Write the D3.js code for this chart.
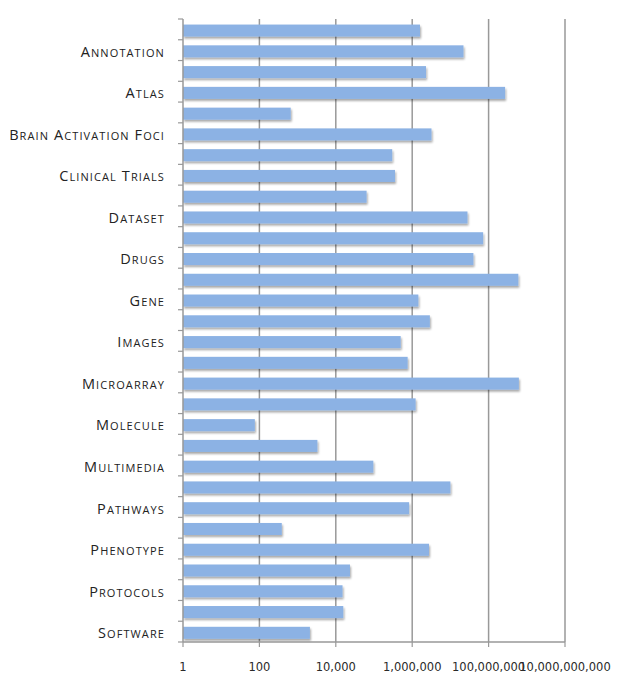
<!DOCTYPE html>
<html>
<head>
<meta charset="utf-8">
<script src="https://cdn.jsdelivr.net/npm/d3@7"></script>
<style>
  body { margin: 0; background: #fff; }
  .cat text { font-family: "Open Sans", sans-serif; fill: #222; }
  .val text { font-family: "DejaVu Sans", sans-serif; font-size: 11.5px; fill: #2a2a2a; }
</style>
</head>
<body>
<svg id="chart" width="620" height="685"></svg>
<script>
// categories top to bottom, only every other one has a label on the axis
const labels = ['', 'Annotation', '', 'Atlas', '', 'Brain Activation Foci', '', 'Clinical Trials',
	'', 'Dataset', '', 'Drugs', '', 'Gene', '', 'Images', '', 'Microarray', '', 'Molecule',
	'', 'Multimedia', '', 'Pathways', '', 'Phenotype', '', 'Protocols', '', 'Software'];

const counts = [1600000, 22000000, 2300000, 270000000, 660, 3200000, 300000, 355000,
	64000, 28000000, 72000000, 40000000, 600000000, 1450000, 2900000, 500000, 760000, 620000000,
	1230000, 76, 3300, 96000, 10000000, 830000, 385, 2750000, 23500, 15000, 15700, 2100];

const tickValues = [1, 100, 10000, 1000000, 100000000, 10000000000];

let svg = d3.select('#chart');

let x = d3.scaleLog()
	.domain([1, 1e10])
	.range([183, 565]);

let y = d3.scaleBand()
	.domain(d3.range(labels.length))
	.range([19, 642])
	.paddingInner(0.42)
	.paddingOuter(0.21);

let defs = svg.append('defs');
let f = defs.append('filter').attr('id', 'shadow')
	.attr('x', '-5%').attr('y', '-50%').attr('width', '110%').attr('height', '220%');
f.append('feGaussianBlur').attr('in', 'SourceAlpha').attr('stdDeviation', 1.3);
f.append('feOffset').attr('dx', 1).attr('dy', 2).attr('result', 'b');
f.append('feComponentTransfer').append('feFuncA').attr('type', 'linear').attr('slope', 0.35);
let m = f.append('feMerge');
m.append('feMergeNode');
m.append('feMergeNode').attr('in', 'SourceGraphic');

// vertical gridlines
svg.append('g')
	.selectAll('line')
	.data(tickValues.slice(1))
	.enter()
	.append('line')
	.attr('x1', d => x(d))
	.attr('x2', d => x(d))
	.attr('y1', 19)
	.attr('y2', 642)
	.attr('stroke', '#999')
	.attr('stroke-width', 1.5);

// bars (excel draws them a touch below the band centre)
svg.append('g')
	.selectAll('rect')
	.data(counts)
	.enter()
	.append('rect')
	.attr('x', x(1))
	.attr('y', (d, i) => y(i) + 1.2)
	.attr('width', d => x(d) - x(1))
	.attr('height', y.bandwidth())
	.attr('fill', '#8cb2e4')
	.attr('filter', 'url(#shadow)');

// category axis
let step = y.step();
let yAxis = svg.append('g').attr('class', 'cat');
yAxis.append('line')
	.attr('x1', 183).attr('x2', 183)
	.attr('y1', 19).attr('y2', 642)
	.attr('stroke', '#999').attr('stroke-width', 1.5);
yAxis.selectAll('line.tick')
	.data(d3.range(labels.length + 1))
	.enter()
	.append('line')
	.attr('class', 'tick')
	.attr('x1', 178).attr('x2', 183)
	.attr('y1', i => 19 + i * step)
	.attr('y2', i => 19 + i * step)
	.attr('stroke', '#999').attr('stroke-width', 1.2);

// small caps by hand: first letter of each word big, the rest smaller
let catText = yAxis.selectAll('text')
	.data(labels)
	.enter()
	.append('text')
	.attr('x', 165)
	.attr('y', (d, i) => y(i) + y.bandwidth() / 2 + 6.5)
	.attr('text-anchor', 'end')
	.attr('letter-spacing', 1.1);

catText.each(function(d) {
	if (!d) return;
	let t = d3.select(this);
	d.split(' ').forEach(function(word, k) {
		t.append('tspan').attr('font-size', 14.5).text((k > 0 ? ' ' : '') + word[0].toUpperCase());
		t.append('tspan').attr('font-size', 11).text(word.slice(1).toUpperCase());
	});
});

// value axis
let xAxis = svg.append('g').attr('class', 'val');
xAxis.append('line')
	.attr('x1', 183).attr('x2', 565)
	.attr('y1', 642).attr('y2', 642)
	.attr('stroke', '#999').attr('stroke-width', 1.5);
xAxis.selectAll('line.tick')
	.data(tickValues)
	.enter()
	.append('line')
	.attr('class', 'tick')
	.attr('x1', d => x(d)).attr('x2', d => x(d))
	.attr('y1', 642).attr('y2', 647)
	.attr('stroke', '#999').attr('stroke-width', 1.2);
xAxis.selectAll('text')
	.data(tickValues)
	.enter()
	.append('text')
	.attr('x', d => x(d))
	.attr('y', 671)
	.attr('text-anchor', 'middle')
	.text(d => d3.format(',')(d));
</script>
</body>
</html>
